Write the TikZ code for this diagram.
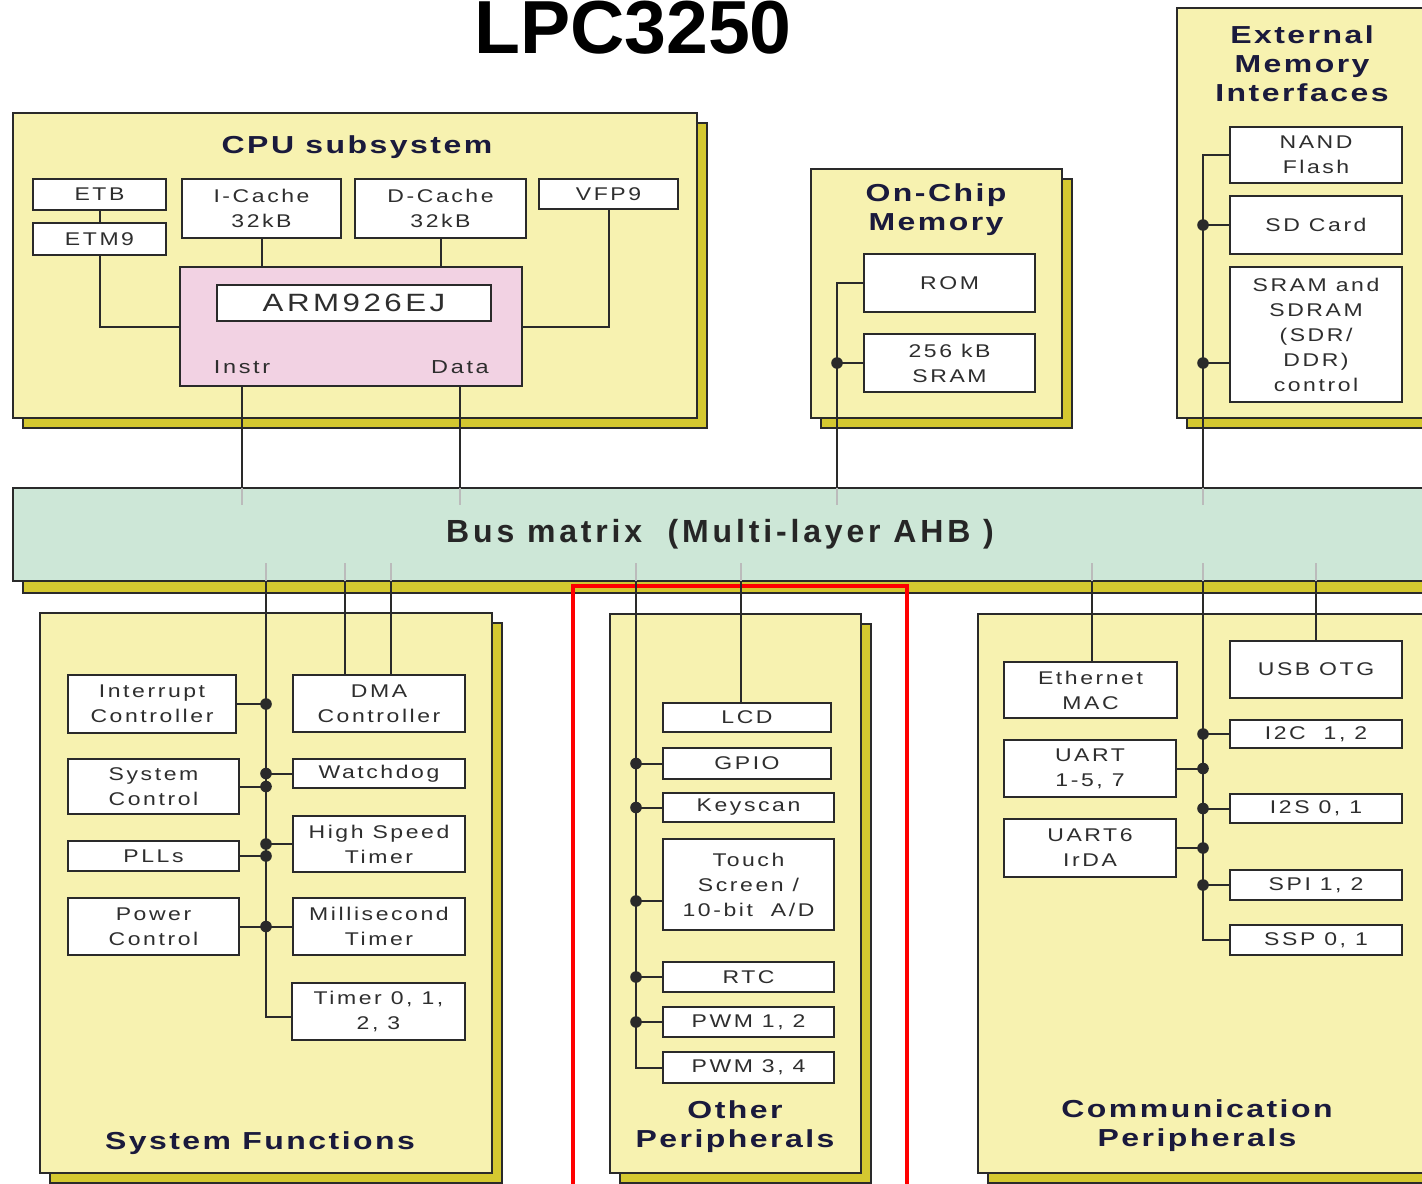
\documentclass[tikz,border=0pt]{standalone}
\usepackage{fontspec}
\setmainfont{Liberation Sans}
\newfontfamily\boxfont{Liberation Sans}[FakeStretch=1.25,LetterSpace=14]
\newfontfamily\titlefont{Liberation Sans}[FakeStretch=1.3,LetterSpace=10]
\newfontfamily\busfont{Liberation Sans}[LetterSpace=12]
\definecolor{yel}{HTML}{F7F2B0}
\definecolor{olivec}{HTML}{D4C830}
\definecolor{busg}{HTML}{CDE7D7}
\definecolor{armpink}{HTML}{F2D2E3}
\definecolor{navy}{HTML}{1A1A3C}
\definecolor{bord}{HTML}{2A2A2A}
\definecolor{txt}{HTML}{2E2E2E}
\definecolor{tickc}{HTML}{BBBBBB}
\newcommand\mybox[7]{\node[blk,#1,minimum width={(#4-#2)*0.5pt},minimum height={(#5-#3)*0.5pt}] (#6) at ({(#2+#4)/2},{(#3+#5)/2}) {#7};}
\newcommand\secbox[5]{\filldraw[fill=olivec,draw=bord,line width=1pt] ({#1+10},{#2+10}) rectangle ({#3+10},{#4+10});
  \node[sec,minimum width={(#3-#1)*0.5pt},minimum height={(#4-#2)*0.5pt}] (#5) at ({(#1+#3)/2},{(#2+#4)/2}) {};}
\newcommand\jdot[1]{\fill[bord] #1 circle[radius=2.9pt];}
\begin{document}
\begin{tikzpicture}[x=0.5pt,y=-0.5pt,
  blk/.style={draw=bord,fill=white,line width=1pt,inner sep=0pt,outer sep=0pt,align=center,text=txt,font=\boxfont\fontsize{9.2}{12.5}\selectfont},
  sec/.style={draw=bord,fill=yel,line width=1pt,inner sep=0pt,outer sep=0pt},
  conn/.style={draw=bord,line width=1pt},
  tick/.style={draw=tickc,line width=1pt},
  ttl/.style={text=navy,align=center,inner sep=0pt,font=\titlefont\bfseries\fontsize{12.3}{14.5}\selectfont},
  lbl/.style={text=txt,inner sep=0pt,font=\boxfont\fontsize{9.4}{12}\selectfont}]
\useasboundingbox (0,0) rectangle (1422,1183);
\clip (0,0) rectangle (1422,1183);
\fill[white] (0,0) rectangle (1422,1183);

% title
\node[font=\fontsize{37.6}{40}\selectfont\bfseries,anchor=base,inner sep=0pt] (title) at (633,53) {LPC3250};

% ---------- CPU subsystem
\secbox{13}{113}{697}{418}{cpu}
\node[ttl] (cputtl) at (357,147) {CPU subsystem};
\mybox{}{33}{179}{166}{210}{etb}{ETB}
\mybox{}{33}{223}{166}{255}{etm}{ETM9}
\mybox{}{182}{179}{341}{238}{icache}{I-Cache\\32kB}
\mybox{}{355}{179}{526}{238}{dcache}{D-Cache\\32kB}
\mybox{}{539}{179}{678}{209}{vfp}{VFP9}
\mybox{fill=armpink}{180}{267}{522}{386}{arm}{}
\mybox{font=\boxfont\fontsize{12.5}{14}\selectfont}{217}{285}{491}{321}{core}{ARM926EJ}
\node[lbl] (instr) at (242,367) {Instr};
\node[lbl] (data) at (460,367) {Data};

% ---------- On-chip memory
\secbox{811}{169}{1062}{418}{ocm}
\node[ttl] (ocmttl) at (936,210) {On-Chip\\Memory};
\mybox{}{864}{254}{1035}{312}{rom}{ROM}
\mybox{}{864}{334}{1035}{392}{sram}{256 kB\\SRAM}

% ---------- External memory
\secbox{1177}{8}{1440}{418}{ext}
\node[ttl] (extttl) at (1302,64) {External\\Memory\\Interfaces};
\mybox{}{1230}{127}{1402}{183}{nand}{NAND\\Flash}
\mybox{}{1230}{196}{1402}{254}{sd}{SD Card}
\mybox{}{1230}{267}{1402}{402}{sdram}{SRAM and\\SDRAM\\(SDR/\\DDR)\\control}

% ---------- Bus matrix
\filldraw[fill=olivec,draw=bord,line width=1pt] (23,581) rectangle (1440,593);
\mybox{fill=busg,text=black!85,font=\busfont\bfseries\fontsize{16}{18}\selectfont}{13}{488}{1427}{581}{bus}{Bus matrix~ (Multi-layer AHB~)}

% ---------- System functions
\secbox{40}{613}{492}{1173}{sf}
\node[ttl] (sfttl) at (260,1143) {System Functions};
\mybox{}{68}{675}{236}{733}{intc}{Interrupt\\Controller}
\mybox{}{293}{675}{465}{732}{dma}{DMA\\Controller}
\mybox{}{68}{759}{239}{814}{sysc}{System\\Control}
\mybox{}{293}{759}{465}{788}{wdog}{Watchdog}
\mybox{}{68}{841}{239}{871}{pll}{PLLs}
\mybox{}{293}{816}{465}{872}{hst}{High Speed\\Timer}
\mybox{}{68}{898}{239}{955}{pwr}{Power\\Control}
\mybox{}{293}{898}{465}{955}{mst}{Millisecond\\Timer}
\mybox{}{292}{983}{465}{1040}{tmr}{Timer 0, 1,\\2, 3}

% ---------- Other peripherals
\draw[red,line width=2pt] (573,586) rectangle (907,1200);
\secbox{610}{614}{861}{1173}{op}
\node[ttl] (opttl) at (735,1127) {Other\\Peripherals};
\mybox{}{663}{703}{831}{732}{lcd}{LCD}
\mybox{}{663}{748}{831}{779}{gpio}{GPIO}
\mybox{}{663}{793}{834}{822}{keys}{Keyscan}
\mybox{}{663}{839}{834}{930}{touch}{Touch\\Screen /\\10-bit~ A/D}
\mybox{}{663}{962}{834}{992}{rtc}{RTC}
\mybox{}{663}{1007}{834}{1037}{pwma}{PWM 1, 2}
\mybox{}{663}{1052}{834}{1083}{pwmb}{PWM 3, 4}

% ---------- Communication peripherals
\secbox{978}{614}{1440}{1173}{cp}
\node[ttl] (cpttl) at (1197,1126) {Communication\\Peripherals};
\mybox{}{1004}{662}{1177}{718}{eth}{Ethernet\\MAC}
\mybox{}{1230}{641}{1402}{698}{usb}{USB OTG}
\mybox{}{1230}{720}{1402}{748}{itc}{I2C~ 1, 2}
\mybox{}{1004}{740}{1176}{797}{uart}{UART\\1-5, 7}
\mybox{}{1230}{794}{1402}{823}{iis}{I2S 0, 1}
\mybox{}{1004}{819}{1176}{877}{uartsix}{UART6\\IrDA}
\mybox{}{1230}{870}{1402}{900}{spi}{SPI 1, 2}
\mybox{}{1230}{925}{1402}{955}{ssp}{SSP 0, 1}

% ---------- coordinates of vertical bus lines
\coordinate (xocm) at (837,0);
\coordinate (xext) at (1203,0);
\coordinate (jsdram) at (1203,363);
\coordinate (xsf) at (266,1017);
\coordinate (xdmaa) at (345,0);
\coordinate (xdmab) at (391,0);
\coordinate (xop) at (636,1068);
\coordinate (jtouch) at (636,901);
\coordinate (xlcd) at (741,0);
\coordinate (xeth) at (1092,0);
\coordinate (xusb) at (1316,0);
\coordinate (xcp) at (1203,940);

% ---------- CPU connectors
\draw[conn] (etb.south) -- (etm.north);
\draw[conn] (etm.south) |- (arm.west);
\draw[conn] (vfp.south) |- (arm.east);
\draw[conn] (icache.south) -- (icache.south |- arm.north);
\draw[conn] (dcache.south) -- (dcache.south |- arm.north);
\draw[conn] (instr |- arm.south) -- (instr |- bus.north);
\draw[conn] (data |- arm.south) -- (data |- bus.north);

% on-chip memory
\draw[conn] (rom.west) -| (bus.north -| xocm);
\draw[conn] (sram.west) -- (sram.west -| xocm);
\jdot{(sram.west -| xocm)}

% external memory
\draw[conn] (nand.west) -| (bus.north -| xext);
\draw[conn] (sd.west) -- (sd.west -| xext);
\jdot{(sd.west -| xext)}
\draw[conn] (jsdram) -- (jsdram -| sdram.west);
\jdot{(jsdram)}

% ticks at top of bus
\foreach \c in {instr,data,xocm,xext}{\draw[tick] (bus.north -| \c) -- ++(0,17);}
% ticks at bottom of bus
\foreach \c in {xsf,xdmaa,xdmab,xop,xlcd,xeth,xcp,xusb}{\draw[tick] (bus.south -| \c) -- ++(0,-18);}

% system functions
\draw[conn] (bus.south -| xsf) -- (xsf) -- (xsf -| tmr.west);
\draw[conn] (bus.south -| xdmaa) -- (dma.north -| xdmaa);
\draw[conn] (bus.south -| xdmab) -- (dma.north -| xdmab);
\draw[conn] (intc.east) -- (intc.east -| xsf);
\draw[conn] (wdog.west) -- (wdog.west -| xsf);
\draw[conn] (sysc.east) -- (sysc.east -| xsf);
\draw[conn] (hst.west) -- (hst.west -| xsf);
\draw[conn] (pll.east) -- (pll.east -| xsf);
\draw[conn] (pwr.east) -- (mst.west);
\jdot{(intc.east -| xsf)}
\jdot{(wdog.west -| xsf)}
\jdot{(sysc.east -| xsf)}
\jdot{(hst.west -| xsf)}
\jdot{(pll.east -| xsf)}
\jdot{(pwr.east -| xsf)}

% other peripherals
\draw[conn] (bus.south -| xop) -- (xop) -- (xop -| pwmb.west);
\draw[conn] (bus.south -| xlcd) -- (lcd.north -| xlcd);
\draw[conn] (gpio.west) -- (gpio.west -| xop);
\draw[conn] (keys.west) -- (keys.west -| xop);
\draw[conn] (jtouch) -- (jtouch -| touch.west);
\draw[conn] (rtc.west) -- (rtc.west -| xop);
\draw[conn] (pwma.west) -- (pwma.west -| xop);
\jdot{(gpio.west -| xop)}
\jdot{(keys.west -| xop)}
\jdot{(jtouch)}
\jdot{(rtc.west -| xop)}
\jdot{(pwma.west -| xop)}

% communication peripherals
\draw[conn] (bus.south -| xcp) -- (xcp) -- (xcp -| ssp.west);
\draw[conn] (bus.south -| xeth) -- (eth.north -| xeth);
\draw[conn] (bus.south -| xusb) -- (usb.north -| xusb);
\draw[conn] (itc.west) -- (itc.west -| xcp);
\draw[conn] (uart.east) -- (uart.east -| xcp);
\draw[conn] (iis.west) -- (iis.west -| xcp);
\draw[conn] (uartsix.east) -- (uartsix.east -| xcp);
\draw[conn] (spi.west) -- (spi.west -| xcp);
\jdot{(itc.west -| xcp)}
\jdot{(uart.east -| xcp)}
\jdot{(iis.west -| xcp)}
\jdot{(uartsix.east -| xcp)}
\jdot{(spi.west -| xcp)}
\end{tikzpicture}
\end{document}
